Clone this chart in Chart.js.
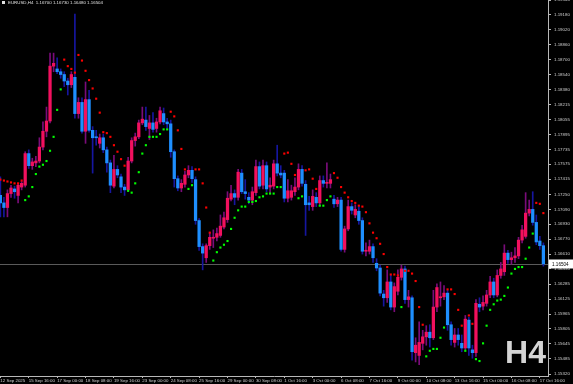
<!DOCTYPE html>
<html>
<head>
<meta charset="utf-8">
<title>EURUSD H4</title>
<script src="https://cdn.jsdelivr.net/npm/chart.js@4.4.1/dist/chart.umd.min.js"></script>
<style>
  html, body { margin: 0; padding: 0; background: #000; }
  canvas { display: block; }
</style>
</head>
<body>
<canvas id="chart" width="573" height="384"></canvas>
<script>
// EURUSD H4 bars, 12 Sep 2025 08:00 .. 17 Oct 2025 20:00 (one entry per bar)
const open = [
  1.1724, 1.1716, 1.1711, 1.1726, 1.1731, 1.1724, 1.1733, 1.1735, 1.1769, 1.1756,
  1.1759, 1.1761, 1.1776, 1.1793, 1.1804, 1.1863, 1.1860, 1.1857, 1.1854, 1.1847,
  1.1843, 1.1851, 1.1812, 1.1824, 1.1793, 1.1827, 1.1794, 1.1787, 1.1780, 1.1786,
  1.1773, 1.1759, 1.1734, 1.1752, 1.1744, 1.1733, 1.1730, 1.1761, 1.1783, 1.1787,
  1.1802, 1.1805, 1.1796, 1.1802, 1.1796, 1.1803, 1.1812, 1.1803, 1.1801, 1.1771,
  1.1742, 1.1732, 1.1736, 1.1746, 1.1751, 1.1741, 1.1697, 1.1669, 1.1657, 1.1670,
  1.1678, 1.1679, 1.1681, 1.1690, 1.1698, 1.1720, 1.1726, 1.1722, 1.1748, 1.1728,
  1.1722, 1.1719, 1.1727, 1.1755, 1.1735, 1.1756, 1.1733, 1.1734, 1.1758, 1.1748,
  1.1748, 1.1721, 1.1722, 1.1728, 1.1733, 1.1752, 1.1736, 1.1716, 1.1712, 1.1722,
  1.1716, 1.1740, 1.1737, 1.1737, 1.1720, 1.1715, 1.1719, 1.1666, 1.1688, 1.1712,
  1.1703, 1.1707, 1.1697, 1.1664, 1.1664, 1.1669, 1.1651, 1.1646, 1.1618, 1.1614,
  1.1631, 1.1604, 1.1621, 1.1636, 1.1645, 1.1612, 1.1614, 1.1555, 1.1552, 1.1565,
  1.1572, 1.1577, 1.1571, 1.1604, 1.1614, 1.1615, 1.1619, 1.1585, 1.1566, 1.1574,
  1.1565, 1.1560, 1.1590, 1.1558, 1.1555, 1.1607, 1.1605, 1.1608, 1.1617, 1.1631,
  1.1617, 1.1638, 1.1642, 1.1662, 1.1655, 1.1657, 1.1659, 1.1676, 1.1680, 1.1705,
  1.1709, 1.1695, 1.1675, 1.1670
];
const high = [
  1.1744, 1.1722, 1.1730, 1.1735, 1.1734, 1.1736, 1.1739, 1.1771, 1.1773, 1.1764,
  1.1766, 1.1786, 1.1803, 1.1819, 1.1877, 1.1877, 1.1872, 1.1860, 1.1857, 1.1850,
  1.1857, 1.1919, 1.1829, 1.1829, 1.1846, 1.1837, 1.1798, 1.1794, 1.1790, 1.1790,
  1.1776, 1.1762, 1.1767, 1.1756, 1.1747, 1.1736, 1.1765, 1.1786, 1.1791, 1.1805,
  1.1819, 1.1819, 1.1810, 1.1813, 1.1807, 1.1819, 1.1818, 1.1807, 1.1805, 1.1773,
  1.1745, 1.1741, 1.1750, 1.1756, 1.1755, 1.1744, 1.1699, 1.1672, 1.1672, 1.1684,
  1.1687, 1.1689, 1.1703, 1.1706, 1.1728, 1.1735, 1.1730, 1.1752, 1.1752, 1.1741,
  1.1727, 1.1733, 1.1762, 1.1760, 1.1762, 1.1760, 1.1743, 1.1762, 1.1778, 1.1756,
  1.1751, 1.1741, 1.1735, 1.1743, 1.1758, 1.1756, 1.1740, 1.1723, 1.1730, 1.1727,
  1.1745, 1.1745, 1.1759, 1.1747, 1.1724, 1.1722, 1.1722, 1.1691, 1.1719, 1.1716,
  1.1714, 1.1712, 1.1700, 1.1673, 1.1676, 1.1672, 1.1656, 1.1649, 1.1622, 1.1644,
  1.1638, 1.1630, 1.1644, 1.1649, 1.1648, 1.1622, 1.1616, 1.1571, 1.1588, 1.1579,
  1.1584, 1.1585, 1.1622, 1.1629, 1.1631, 1.1627, 1.1622, 1.1588, 1.1581, 1.1581,
  1.1574, 1.1595, 1.1593, 1.1563, 1.1612, 1.1614, 1.1616, 1.1622, 1.1637, 1.1635,
  1.1644, 1.1652, 1.1671, 1.1665, 1.1663, 1.1668, 1.1679, 1.1692, 1.1727, 1.1719,
  1.1728, 1.1703, 1.1680, 1.1673
];
const low = [
  1.1701, 1.1701, 1.1701, 1.1722, 1.1721, 1.1716, 1.1730, 1.1733, 1.1753, 1.1752,
  1.1755, 1.1759, 1.1773, 1.1787, 1.1802, 1.1857, 1.1855, 1.1850, 1.1841, 1.1832,
  1.1840, 1.1807, 1.1807, 1.1791, 1.1780, 1.1792, 1.1748, 1.1778, 1.1775, 1.1770,
  1.1749, 1.1727, 1.1732, 1.1743, 1.1727, 1.1724, 1.1728, 1.1759, 1.1777, 1.1785,
  1.1800, 1.1794, 1.1784, 1.1792, 1.1792, 1.1801, 1.1800, 1.1796, 1.1765, 1.1733,
  1.1729, 1.1728, 1.1733, 1.1743, 1.1738, 1.1693, 1.1665, 1.1644, 1.1652, 1.1666,
  1.1668, 1.1675, 1.1679, 1.1688, 1.1695, 1.1718, 1.1714, 1.1719, 1.1726, 1.1720,
  1.1715, 1.1714, 1.1724, 1.1731, 1.1731, 1.1728, 1.1727, 1.1731, 1.1745, 1.1743,
  1.1717, 1.1717, 1.1719, 1.1724, 1.1730, 1.1734, 1.1681, 1.1708, 1.1708, 1.1712,
  1.1713, 1.1733, 1.1732, 1.1732, 1.1711, 1.1712, 1.1664, 1.1663, 1.1686, 1.1704,
  1.1700, 1.1693, 1.1661, 1.1659, 1.1661, 1.1652, 1.1643, 1.1616, 1.1605, 1.1609,
  1.1601, 1.1599, 1.1617, 1.1633, 1.1608, 1.1604, 1.1547, 1.1545, 1.1542, 1.1558,
  1.1563, 1.1561, 1.1569, 1.1599, 1.1605, 1.1612, 1.1579, 1.1563, 1.1561, 1.1563,
  1.1556, 1.1558, 1.1552, 1.1549, 1.1551, 1.1599, 1.1601, 1.1605, 1.1614, 1.1614,
  1.1615, 1.1635, 1.1638, 1.1651, 1.1650, 1.1652, 1.1656, 1.1673, 1.1678, 1.1702,
  1.1692, 1.1671, 1.1666, 1.1648
];
const close = [
  1.1716, 1.1711, 1.1726, 1.1732, 1.1728, 1.1735, 1.1737, 1.1769, 1.1756, 1.1760,
  1.1761, 1.1776, 1.1793, 1.1804, 1.1863, 1.1866, 1.1857, 1.1854, 1.1847, 1.1843,
  1.1854, 1.1812, 1.1824, 1.1793, 1.1827, 1.1794, 1.1786, 1.1786, 1.1786, 1.1773,
  1.1759, 1.1735, 1.1752, 1.1746, 1.1733, 1.1730, 1.1761, 1.1783, 1.1787, 1.1802,
  1.1806, 1.1798, 1.1802, 1.1795, 1.1803, 1.1815, 1.1803, 1.1801, 1.1771, 1.1742,
  1.1732, 1.1737, 1.1746, 1.1751, 1.1742, 1.1697, 1.1669, 1.1662, 1.1670, 1.1679,
  1.1679, 1.1683, 1.1691, 1.1700, 1.1721, 1.1726, 1.1722, 1.1749, 1.1728, 1.1726,
  1.1719, 1.1728, 1.1755, 1.1734, 1.1756, 1.1731, 1.1735, 1.1758, 1.1748, 1.1746,
  1.1721, 1.1729, 1.1729, 1.1733, 1.1752, 1.1737, 1.1714, 1.1714, 1.1723, 1.1716,
  1.1740, 1.1737, 1.1738, 1.1741, 1.1715, 1.1719, 1.1666, 1.1688, 1.1712, 1.1708,
  1.1709, 1.1697, 1.1664, 1.1665, 1.1669, 1.1657, 1.1646, 1.1619, 1.1614, 1.1631,
  1.1604, 1.1626, 1.1636, 1.1645, 1.1612, 1.1615, 1.1556, 1.1563, 1.1566, 1.1572,
  1.1577, 1.1571, 1.1604, 1.1625, 1.1615, 1.1619, 1.1585, 1.1569, 1.1574, 1.1569,
  1.1560, 1.1591, 1.1560, 1.1555, 1.1608, 1.1604, 1.1609, 1.1617, 1.1631, 1.1617,
  1.1638, 1.1645, 1.1662, 1.1655, 1.1657, 1.1659, 1.1676, 1.1687, 1.1705, 1.1709,
  1.1695, 1.1674, 1.1670, 1.16504
];
// Parabolic SAR dots
const sar = [
  1.1741, 1.1740, 1.1739, 1.1738, 1.1737, 1.1737, 1.1740, 1.1719, 1.1723, 1.1733,
  1.1747, 1.1755, 1.1757, 1.1761, 1.1772, 1.1787, 1.1816, 1.1838, 1.1870, 1.1863,
  1.1860, 1.1856, 1.1875, 1.1869, 1.1858, 1.1848, 1.1839, 1.1828, 1.1813, 1.1792,
  1.1791, 1.1787, 1.1778, 1.1771, 1.1763, 1.1756, 1.1729, 1.1727, 1.1737, 1.1749,
  1.1769, 1.1778, 1.1787, 1.1787, 1.1787, 1.1790, 1.1795, 1.1795, 1.1814, 1.1809,
  1.1794, 1.1774, 1.1752, 1.1731, 1.1735, 1.1752, 1.1752, 1.1737, 1.1711, 1.1684,
  1.1654, 1.1663, 1.1668, 1.1671, 1.1675, 1.1688, 1.1700, 1.1708, 1.1712, 1.1712,
  1.1717, 1.1717, 1.1718, 1.1722, 1.1723, 1.1726, 1.1726, 1.1726, 1.1733, 1.1733,
  1.1769, 1.1770, 1.1758, 1.1746, 1.1721, 1.1723, 1.1751, 1.1752, 1.1742, 1.1731,
  1.1713, 1.1713, 1.1719, 1.1723, 1.1748, 1.1743, 1.1733, 1.1727, 1.1722, 1.1718,
  1.1716, 1.1713, 1.1712, 1.1706, 1.1694, 1.1684, 1.1678, 1.1672, 1.1661, 1.1647,
  1.1639, 1.1639, 1.1638, 1.1604, 1.1643, 1.1643, 1.1640, 1.1632, 1.1604, 1.1585,
  1.1551, 1.1557, 1.1559, 1.1559, 1.1571, 1.1582, 1.1623, 1.1623, 1.1618, 1.1601,
  1.1584, 1.1557, 1.1595, 1.1586, 1.1548, 1.1546, 1.1565, 1.1584, 1.1601, 1.1607,
  1.1611, 1.1612, 1.1616, 1.1625, 1.1640, 1.1645, 1.1647, 1.1647, 1.1656, 1.1668,
  1.1683, 1.1716, 1.1715, 1.1705
];

// time axis: bar index of each label and its text
const xTickIdx = [0, 8, 16, 24, 32, 40, 48, 56, 64, 72, 80, 88, 96, 104, 112, 120, 128, 136, 144, 152];
const xTickLabels = [
  '12 Sep 2025', '15 Sep 16:00', '17 Sep 00:00', '18 Sep 08:00', '19 Sep 16:00',
  '23 Sep 00:00', '24 Sep 08:00', '25 Sep 16:00', '29 Sep 00:00', '30 Sep 08:00',
  '1 Oct 16:00', '3 Oct 00:00', '6 Oct 08:00', '7 Oct 16:00', '9 Oct 00:00',
  '10 Oct 08:00', '13 Oct 16:00', '15 Oct 00:00', '16 Oct 08:00', '17 Oct 16:00'
];
// price axis labels
const yTicks = [
  1.19340, 1.19180, 1.19020, 1.18860, 1.18700, 1.18540, 1.18380, 1.18215, 1.18055,
  1.17895, 1.17735, 1.17575, 1.17415, 1.17250, 1.17090, 1.16930, 1.16770, 1.16610,
  1.16450, 1.16285, 1.16125, 1.15965, 1.15805, 1.15645, 1.15485, 1.15320
];
const priceMin = 1.15299;
const priceMax = 1.19341;

const bullBody = '#f2105e';
const bearBody = '#1e8fff';
const bullWick = '#7a0c7a';
const bearWick = '#1616a0';
const sarUp = '#00ff00';
const sarDown = '#ff0000';
const axisLine = '#b8b8b8';
const axisText = '#d0d0d0';
const tinyFont = { family: 'Liberation Sans', size: 4.4 };

const idx = open.map((_, i) => i);
const isBull = i => close[i] >= open[i];

// background, bid line, price box, header and timeframe label
const decor = {
  id: 'decor',
  beforeDraw(chart) {
    const c = chart.ctx;
    c.save();
    c.fillStyle = '#000';
    c.fillRect(0, 0, chart.width, chart.height);
    c.restore();
  },
  beforeDatasetsDraw(chart) {
    const c = chart.ctx;
    const area = chart.chartArea;
    const y = Math.round(chart.scales.y.getPixelForValue(close[close.length - 1])) + 0.5;
    c.save();
    c.strokeStyle = '#5a5a5a';
    c.lineWidth = 1;
    c.beginPath();
    c.moveTo(area.left, y);
    c.lineTo(area.right, y);
    c.stroke();
    c.restore();
  },
  afterDraw(chart) {
    const c = chart.ctx;
    const area = chart.chartArea;
    const last = close[close.length - 1];
    const y = Math.round(chart.scales.y.getPixelForValue(last));
    c.save();
    // current price box
    c.fillStyle = '#ffffff';
    c.fillRect(area.right + 1, y - 4.5, chart.width - area.right - 1, 9);
    c.fillStyle = '#000000';
    c.font = '4.6px "Liberation Sans"';
    c.textBaseline = 'middle';
    c.textAlign = 'left';
    c.fillText(last.toFixed(5), area.right + 4, y + 0.5);
    // header
    c.fillStyle = '#e0e0e0';
    c.fillRect(2, 1, 3, 3);
    c.font = '4.4px "Liberation Sans"';
    c.textBaseline = 'top';
    c.fillText('EURUSD,H4  ' + open[open.length - 1].toFixed(5) + ' ' + high[high.length - 1].toFixed(5) + ' ' +
      low[low.length - 1].toFixed(5) + ' ' + last.toFixed(5), 8, 0.5);
    // timeframe
    c.fillStyle = '#d4d4d4';
    c.font = 'bold 32px "Liberation Sans"';
    c.textAlign = 'right';
    c.textBaseline = 'alphabetic';
    c.fillText('H4', 546, 363);
    c.restore();
  }
};

new Chart(document.getElementById('chart'), {
  type: 'bar',
  data: {
    datasets: [
      {
        label: 'wick',
        data: idx.map(i => ({ x: i, y: [low[i], high[i]] })),
        backgroundColor: ctx => isBull(ctx.dataIndex) ? bullWick : bearWick,
        barThickness: 1,
        grouped: false,
        borderWidth: 0,
        order: 3
      },
      {
        label: 'body',
        data: idx.map(i => ({ x: i, y: [open[i], close[i]] })),
        backgroundColor: ctx => isBull(ctx.dataIndex) ? bullBody : bearBody,
        barThickness: 2.6,
        minBarLength: 1,
        grouped: false,
        borderWidth: 0,
        order: 2
      },
      {
        type: 'scatter',
        label: 'SAR',
        data: idx.map(i => ({ x: i, y: sar[i] })),
        pointStyle: 'rect',
        pointRadius: 1.5,
        pointBorderWidth: 0,
        pointBackgroundColor: ctx => sar[ctx.dataIndex] > close[ctx.dataIndex] ? sarDown : sarUp,
        order: 1
      }
    ]
  },
  options: {
    responsive: false,
    animation: false,
    devicePixelRatio: 1,
    events: [],
    layout: { padding: 0, autoPadding: false },
    plugins: { legend: { display: false }, tooltip: { enabled: false } },
    scales: {
      x: {
        type: 'linear',
        min: -0.1,
        max: 154.3,
        offset: false,
        afterBuildTicks: s => { s.ticks = xTickIdx.map(v => ({ value: v })); },
        afterFit: s => { s.height = 8; s.paddingLeft = 0; s.paddingRight = 0; },
        ticks: {
          autoSkip: false, maxRotation: 0, minRotation: 0, align: 'start', padding: 0,
          color: axisText, font: tinyFont,
          callback: (v, i) => xTickLabels[i]
        },
        grid: { drawOnChartArea: false, offset: false, tickLength: 2, color: axisLine },
        border: { color: axisLine }
      },
      y: {
        position: 'right',
        min: priceMin,
        max: priceMax,
        afterBuildTicks: s => { s.ticks = yTicks.map(v => ({ value: v })); },
        afterFit: s => { s.width = 25; s.paddingTop = 0; s.paddingBottom = 0; },
        ticks: {
          autoSkip: false, padding: 3, color: axisText, font: tinyFont,
          callback: v => v.toFixed(5)
        },
        grid: { drawOnChartArea: false, tickLength: 3, color: axisLine },
        border: { color: axisLine }
      }
    }
  },
  plugins: [decor]
});
</script>
</body>
</html>
